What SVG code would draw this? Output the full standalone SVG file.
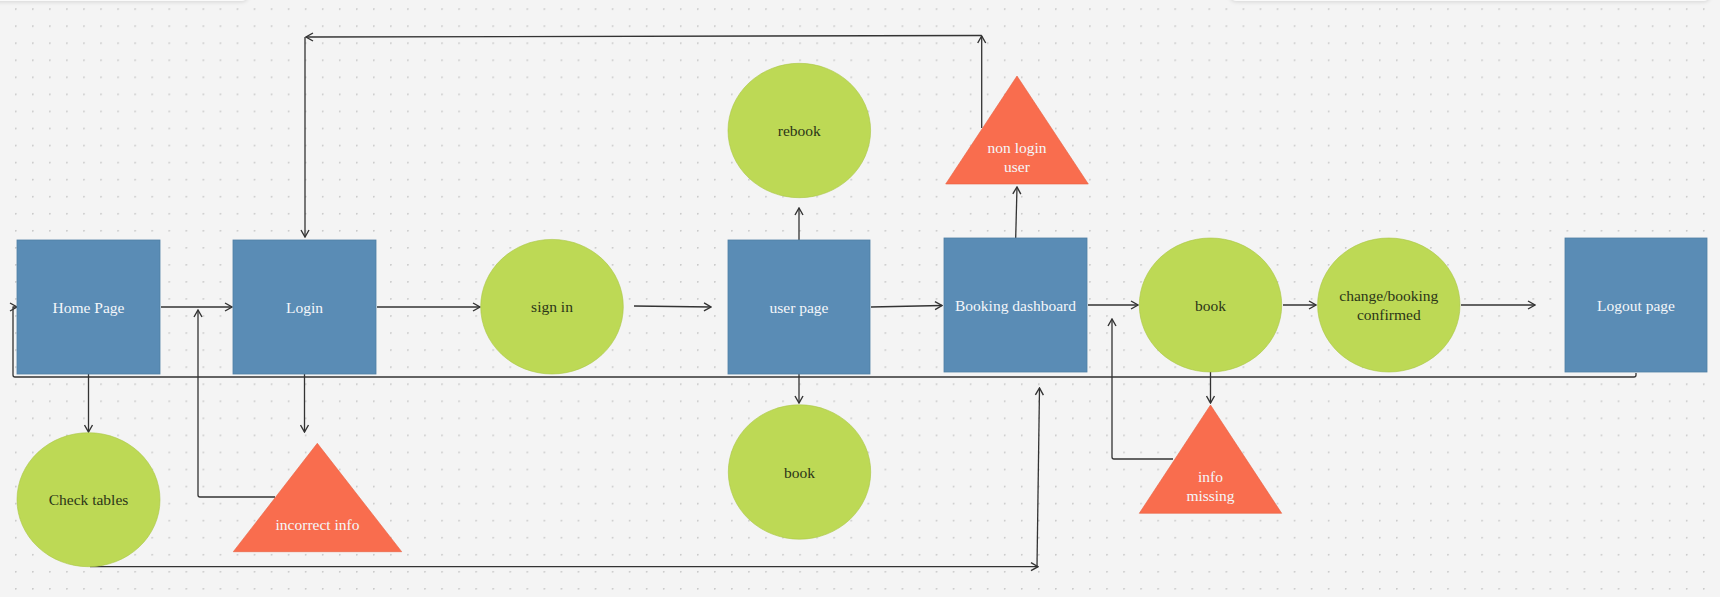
<svg xmlns="http://www.w3.org/2000/svg" width="1720" height="597" viewBox="0 0 1720 597">
  <defs>
    <pattern id="dots" x="15" y="8.3" width="17.05" height="17.05" patternUnits="userSpaceOnUse">
      <circle cx="0.8" cy="0.8" r="0.85" fill="#c4c4c4"/>
    </pattern>
    <filter id="softShadow" x="-5%" y="-100%" width="110%" height="400%">
      <feGaussianBlur stdDeviation="2"/>
    </filter>
    <marker id="arrow" viewBox="0 0 10 10" refX="9" refY="5" markerWidth="10" markerHeight="10" markerUnits="userSpaceOnUse" orient="auto">
      <path d="M2,1 L9,5 L2,9" fill="none" stroke="#333" stroke-width="1.4" stroke-linejoin="miter"/>
    </marker>
    <style>
      .page { fill: #5a8cb5; stroke: #4f7fa6; stroke-width: 0.8; }
      .step { fill: #bdd955; stroke: #aac645; stroke-width: 0.6; }
      .warn { fill: #f96d4e; stroke: #e85f40; stroke-width: 0.6; }
      .link { fill: none; stroke: #333; stroke-width: 1.3; stroke-linejoin: round; }
      .arr { marker-end: url(#arrow); }
      text { font-family: "Liberation Serif", "DejaVu Serif", serif; font-size: 15.5px; text-anchor: middle; dominant-baseline: central; }
      .light { fill: #f4f7fa; }
      .dark { fill: #2c3618; }
    </style>
  </defs>

  <!-- canvas -->
  <rect width="1720" height="597" fill="#f4f4f4"/>
  <rect width="1720" height="597" fill="url(#dots)"/>
  <!-- toolbar panels along the top edge -->
  <rect x="-10" y="-20" width="258" height="22" rx="6" fill="#000" opacity="0.12" filter="url(#softShadow)"/>
  <rect x="-10" y="-20" width="258" height="21" rx="6" fill="#fafafa"/>
  <rect x="1230" y="-20" width="480" height="22" rx="6" fill="#000" opacity="0.12" filter="url(#softShadow)"/>
  <rect x="1230" y="-20" width="480" height="21" rx="6" fill="#fafafa"/>

  <!-- connectors -->
  <g id="connectors">
    <path class="link arr" d="M161,307 H232"/>
    <path class="link arr" d="M377,307 H480"/>
    <path class="link arr" d="M634,306 L711,307"/>
    <path class="link arr" d="M871,307 L942,305.5"/>
    <path class="link arr" d="M1088,305 H1138"/>
    <path class="link arr" d="M1283,305 H1316"/>
    <path class="link arr" d="M1461,305 H1535"/>
    <!-- logout back to home -->
    <path class="link arr" d="M1636,373 V375 Q1636,377 1634,377 H15 Q13,377 13,375 V307 H17"/>
    <!-- home to check tables -->
    <path class="link arr" d="M88.5,374 V432"/>
    <!-- login to incorrect info -->
    <path class="link arr" d="M304.5,374 V432"/>
    <!-- incorrect info back to login -->
    <path class="link arr" d="M275,497 H200 Q198,497 198,495 V310"/>
    <!-- user page to rebook / book -->
    <path class="link arr" d="M799,240 V208"/>
    <path class="link arr" d="M799,374 V403"/>
    <!-- booking dashboard to non login user -->
    <path class="link arr" d="M1015.7,238 L1017,187"/>
    <!-- non login user back to login -->
    <path class="link arr" d="M981.7,128 V36"/>
    <path class="link arr" d="M981.7,35.5 L306,37"/>
    <path class="link arr" d="M305,37 V237"/>
    <!-- book to info missing -->
    <path class="link arr" d="M1210.5,372 V403"/>
    <!-- info missing back to booking -->
    <path class="link arr" d="M1173,459 H1114 Q1112,459 1112,457 V319"/>
    <!-- check tables to booking -->
    <path class="link arr" d="M90,566.7 H1038"/>
    <path class="link arr" d="M1037,566.7 L1039.5,388"/>
  </g>

  <!-- nodes -->
  <g id="home-page">
    <rect class="page" x="17" y="240" width="143" height="134"/>
    <text class="light" x="88.5" y="307">Home Page</text>
  </g>
  <g id="login">
    <rect class="page" x="233" y="240" width="143" height="134"/>
    <text class="light" x="304.5" y="307">Login</text>
  </g>
  <g id="sign-in">
    <ellipse class="step" cx="552" cy="306.7" rx="71.3" ry="67.3"/>
    <text class="dark" x="552" y="306.7">sign in</text>
  </g>
  <g id="user-page">
    <rect class="page" x="728" y="240" width="142" height="134"/>
    <text class="light" x="799" y="307">user page</text>
  </g>
  <g id="rebook">
    <ellipse class="step" cx="799.3" cy="130.5" rx="71.3" ry="67.2"/>
    <text class="dark" x="799.3" y="130.5">rebook</text>
  </g>
  <g id="book-user">
    <ellipse class="step" cx="799.5" cy="472" rx="71.2" ry="67.2"/>
    <text class="dark" x="799.5" y="472">book</text>
  </g>
  <g id="booking-dashboard">
    <rect class="page" x="944" y="238" width="143" height="134"/>
    <text class="light" x="1015.5" y="305">Booking dashboard</text>
  </g>
  <g id="non-login-user">
    <polygon class="warn" points="1017,76 1088.3,184 945.7,184"/>
    <text class="light" x="1017" y="147.5">non login</text>
    <text class="light" x="1017" y="166.5">user</text>
  </g>
  <g id="book">
    <ellipse class="step" cx="1210.5" cy="305" rx="71.2" ry="67"/>
    <text class="dark" x="1210.5" y="305">book</text>
  </g>
  <g id="info-missing">
    <polygon class="warn" points="1210.5,405 1281.7,513.3 1139.3,513.3"/>
    <text class="light" x="1210.5" y="476.5">info</text>
    <text class="light" x="1210.5" y="495.5">missing</text>
  </g>
  <g id="change-booking-confirmed">
    <ellipse class="step" cx="1388.8" cy="305" rx="71.2" ry="67"/>
    <text class="dark" x="1388.8" y="295.5">change/booking</text>
    <text class="dark" x="1388.8" y="314.5">confirmed</text>
  </g>
  <g id="logout-page">
    <rect class="page" x="1565" y="238" width="142" height="134"/>
    <text class="light" x="1636" y="305">Logout page</text>
  </g>
  <g id="check-tables">
    <ellipse class="step" cx="88.5" cy="499.7" rx="71.5" ry="67"/>
    <text class="dark" x="88.5" y="499.7">Check tables</text>
  </g>
  <g id="incorrect-info">
    <polygon class="warn" points="317.3,443.3 401.7,551.7 233.3,551.7"/>
    <text class="light" x="317.5" y="524">incorrect info</text>
  </g>
</svg>
